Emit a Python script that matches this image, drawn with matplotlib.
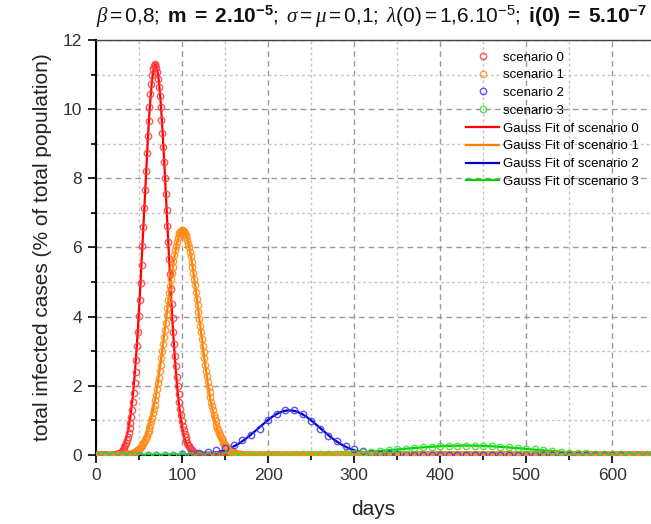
import matplotlib
matplotlib.use("Agg")
import matplotlib.pyplot as plt
import numpy as np
from matplotlib.ticker import MultipleLocator

plt.rcParams["font.family"] = ["Liberation Sans", "DejaVu Sans"]
plt.rcParams["mathtext.fontset"] = "custom"
plt.rcParams["mathtext.rm"] = "Liberation Sans"
plt.rcParams["mathtext.it"] = "Liberation Serif:italic"
plt.rcParams["mathtext.bf"] = "Liberation Sans:bold"

# scenario 0 / 1 are daily values, listed from their first non-zero day
red_start = 20
red_vals = [
    0.01, 0.01, 0.01, 0.02, 0.02, 0.03, 0.03, 0.04,
    0.07, 0.09, 0.11, 0.14, 0.18, 0.22, 0.28, 0.35, 0.43, 0.52,
    0.63, 0.77, 0.92, 1.10, 1.30, 1.53, 1.79, 2.08, 2.40, 2.76,
    3.14, 3.56, 4.01, 4.48, 4.98, 5.50, 6.04, 6.58, 7.13, 7.67,
    8.21, 8.72, 9.21, 9.66, 10.07, 10.43, 10.74, 10.98, 11.16, 11.26,
    11.30,
    11.27, 11.19, 11.06, 10.88, 10.65, 10.37, 10.06, 9.70, 9.32, 8.91,
    8.47, 8.02, 7.56, 7.09, 6.62, 6.15, 5.68, 5.23, 4.79, 4.37,
    3.96, 3.57, 3.21, 2.87, 2.56, 2.26, 2.00, 1.75, 1.53, 1.33,
    1.15, 0.99, 0.85, 0.72, 0.61, 0.52, 0.44, 0.36, 0.30, 0.25,
    0.21, 0.17, 0.14, 0.11, 0.09, 0.07, 0.06, 0.05, 0.04, 0.03,
    0.03, 0.02, 0.02, 0.01, 0.01, 0.01,
]
orange_start = 30
orange_vals = [
    0.01, 0.01, 0.01, 0.01, 0.01, 0.02, 0.02, 0.02, 0.02, 0.03,
    0.03, 0.04, 0.05, 0.06, 0.07, 0.08, 0.09, 0.11, 0.13, 0.15,
    0.17, 0.19, 0.22, 0.26, 0.30, 0.34, 0.38, 0.44, 0.49, 0.56,
    0.63, 0.70, 0.79, 0.88, 0.98, 1.08, 1.20, 1.32, 1.45, 1.59,
    1.74, 1.90, 2.07, 2.24, 2.42, 2.61, 2.80, 3.00, 3.20, 3.41,
    3.62, 3.83, 4.05, 4.26, 4.47, 4.68, 4.88, 5.08, 5.27, 5.45,
    5.62, 5.77, 5.92, 6.05, 6.17, 6.27, 6.35, 6.42, 6.46, 6.49,
    6.50,
    6.49, 6.47, 6.43, 6.37, 6.30, 6.21, 6.11, 6.00, 5.87, 5.74,
    5.59, 5.43, 5.26, 5.09, 4.91, 4.72, 4.52, 4.33, 4.13, 3.94,
    3.74, 3.55, 3.35, 3.16, 2.98, 2.79, 2.61, 2.44, 2.27, 2.11,
    1.96, 1.81, 1.67, 1.54, 1.41, 1.29, 1.17, 1.07, 0.97, 0.88,
    0.79, 0.72, 0.64, 0.58, 0.52, 0.46, 0.41, 0.36, 0.32, 0.29,
    0.25, 0.22, 0.19, 0.17, 0.15, 0.13, 0.11, 0.10, 0.08, 0.07,
    0.06, 0.05, 0.05, 0.04, 0.03, 0.03, 0.02, 0.02, 0.02, 0.01,
]
last_day = 645

# scenario 2 / 3 are sampled every 10 days (0 .. 640)
coarse_days = np.arange(0, 641, 10)
blue_vals = [0.0] * 9 + [
    0.01, 0.02, 0.03, 0.05, 0.08, 0.13, 0.20, 0.28, 0.42, 0.57,
    0.76, 1.00, 1.19, 1.30, 1.30, 1.19, 0.97, 0.76, 0.56, 0.40,
    0.27, 0.18, 0.11, 0.07, 0.04, 0.03, 0.02, 0.01,
] + [0.0] * 28
green_vals = [0.0] * 22 + [
    0.01, 0.01, 0.02, 0.02, 0.03, 0.03, 0.04, 0.05, 0.06, 0.08,
    0.10, 0.12, 0.14, 0.16, 0.18, 0.20, 0.22, 0.24, 0.25, 0.26,
    0.27, 0.27, 0.27, 0.26, 0.25, 0.24, 0.22, 0.20, 0.18, 0.16,
    0.13, 0.11, 0.09, 0.07, 0.06, 0.05, 0.04, 0.03, 0.02, 0.02,
    0.01, 0.01, 0.01,
]

labels = ["scenario 0", "scenario 1", "scenario 2", "scenario 3"]
marker_colors = ["#ff3b3b", "#ff8c1a", "#3a3aff", "#2ee62e"]
line_colors = ["#ff0000", "#ff7f00", "#0000cc", "#00d200"]


def daily_series(start, vals):
    days = np.arange(0, last_day + 1)
    y = np.zeros(len(days))
    y[start:start + len(vals)] = vals
    return days, y


def gauss_fit(x, y):
    # fit log(y) with a parabola on the upper part of the peak
    x = np.asarray(x, float)
    y = np.asarray(y, float)
    keep = y > 0.2 * y.max()
    c2, c1, c0 = np.polyfit(x[keep], np.log(y[keep]), 2, w=y[keep])
    xc = -c1 / (2 * c2)
    w = np.sqrt(-1 / (2 * c2))
    a = np.exp(c0 - c1 ** 2 / (4 * c2))
    return xc, w, a


series = [
    daily_series(red_start, red_vals),
    daily_series(orange_start, orange_vals),
    (coarse_days, np.array(blue_vals)),
    (coarse_days, np.array(green_vals)),
]

fig = plt.figure(figsize=(6.51, 5.24), dpi=100)
ax = fig.add_axes([0.1475, 0.1317, 0.8525, 0.792])

xs = np.linspace(0, last_day, 1500)
marker_handles = []
line_handles = []
for (x, y), lab, mc, lc in zip(series, labels, marker_colors, line_colors):
    xc, w, a = gauss_fit(x, y)
    (ln,) = ax.plot(xs, a * np.exp(-((xs - xc) ** 2) / (2 * w ** 2)),
                    color=lc, lw=1.6, zorder=3, label="Gauss Fit of " + lab)
    (mk,) = ax.plot(x, y, linestyle="none", marker="o", ms=4.6,
                    mfc="none", mec=mc, mew=1.0, alpha=0.85, zorder=4, label=lab)
    marker_handles.append(mk)
    line_handles.append(ln)

ax.set_xlim(0, last_day)
ax.set_ylim(0, 12)
ax.xaxis.set_major_locator(MultipleLocator(100))
ax.xaxis.set_minor_locator(MultipleLocator(50))
ax.yaxis.set_major_locator(MultipleLocator(2))
ax.yaxis.set_minor_locator(MultipleLocator(1))
ax.grid(which="major", color="#9a9a9a", linestyle=(0, (4, 3)), lw=1.0)
ax.grid(which="minor", color="#c4c4c4", linestyle=(0, (2, 2)), lw=1.0)
ax.set_axisbelow(True)
ax.tick_params(which="both", direction="out", colors="black",
               labelcolor="#333333", labelsize=12.5, width=1.2)
ax.tick_params(which="major", length=6)
ax.tick_params(which="minor", length=3.5)
ax.tick_params(axis="y", pad=4)
for side in ["left", "bottom", "top"]:
    ax.spines[side].set_linewidth(1.5)
ax.spines["top"].set_color("#444444")
ax.spines["top"].set_linewidth(1.0)
ax.spines["right"].set_visible(False)

ax.set_xlabel("days", fontsize=15, color="#222222", labelpad=12)
ax.set_ylabel("total infected cases (% of total population)", fontsize=15,
              color="#222222", labelpad=8)

title = (r"$\mathit{\beta = 0{,}8;}\ \mathbf{m\ =\ 2.10^{-5}};\ "
         r"\mathit{\sigma = \mu = 0{,}1;\ \lambda(0) = 1{,}6.10^{-5};}\ "
         r"\mathbf{i(0)\ =\ 5.10^{-7}}$")
fig.text(0.57, 0.968, title, fontsize=15, ha="center", va="center",
         color="#111111")

ax.legend(handles=marker_handles + line_handles, loc="upper right",
          bbox_to_anchor=(0.995, 0.995), frameon=False, fontsize=9.5,
          handlelength=2.5, handletextpad=0.3, labelspacing=0.42,
          numpoints=1, borderaxespad=0.3)

fig.savefig("out.png", dpi=100)
